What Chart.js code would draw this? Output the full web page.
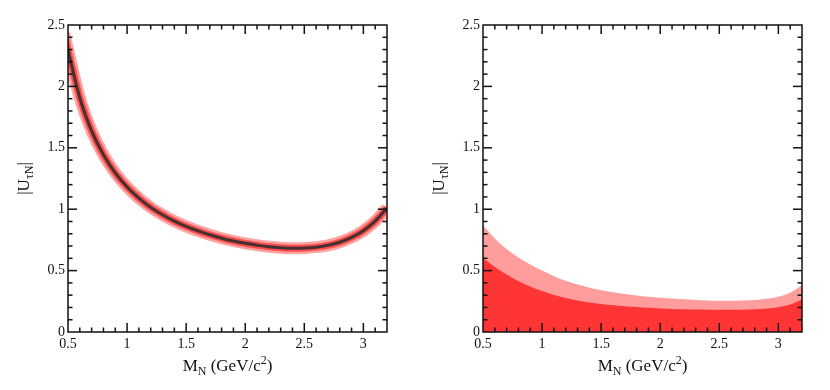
<!DOCTYPE html>
<html>
<head>
<meta charset="utf-8">
<script src="https://cdn.jsdelivr.net/npm/chart.js@4/dist/chart.umd.min.js"></script>
<style>
  html, body { margin: 0; padding: 0; background: #fff; }
  #wrap { display: flex; width: 830px; height: 390px; }
  canvas { display: block; }
</style>
</head>
<body>
<div id="wrap">
  <canvas id="leftChart" width="415" height="390"></canvas>
  <canvas id="rightChart" width="415" height="390"></canvas>
</div>
<script>
// Axis ticks
const xMajor = [0.5, 1, 1.5, 2, 2.5, 3];
const yMajor = [0, 0.5, 1, 1.5, 2, 2.5];
const minorStep = 0.1;

// Left panel: central curve (drawn with two error bands around it).
// first/last points sit just outside the frame so the band is cut by the axes
const leftX = [0.47, 0.5, 0.6, 0.7, 0.8, 0.9, 1.0, 1.1, 1.2, 1.3, 1.4, 1.5, 1.6, 1.7, 1.8, 1.9, 2.0, 2.1, 2.2, 2.3, 2.4, 2.5, 2.6, 2.7, 2.8, 2.9, 3.0, 3.1, 3.2, 3.23];
const leftCenter = [2.43, 2.30, 1.907, 1.638, 1.443, 1.295, 1.181, 1.090, 1.015, 0.955, 0.903, 0.860, 0.823, 0.792, 0.764, 0.741, 0.722, 0.707, 0.694, 0.686, 0.682, 0.684, 0.691, 0.706, 0.731, 0.770, 0.825, 0.903, 1.010, 1.05];

// Right panel: two filled regions from zero
const rightX = [0.5, 0.6, 0.7, 0.8, 0.9, 1.0, 1.1, 1.2, 1.3, 1.4, 1.5, 1.6, 1.7, 1.8, 1.9, 2.0, 2.1, 2.2, 2.3, 2.4, 2.5, 2.6, 2.7, 2.8, 2.9, 3.0, 3.1, 3.2];
const rightUpper = [0.870, 0.762, 0.675, 0.607, 0.550, 0.500, 0.455, 0.417, 0.386, 0.361, 0.340, 0.323, 0.309, 0.297, 0.287, 0.279, 0.272, 0.266, 0.261, 0.257, 0.255, 0.254, 0.256, 0.261, 0.270, 0.287, 0.320, 0.380];
const rightLower = [0.600, 0.530, 0.469, 0.416, 0.371, 0.333, 0.302, 0.277, 0.257, 0.241, 0.228, 0.218, 0.210, 0.203, 0.197, 0.192, 0.188, 0.185, 0.183, 0.182, 0.181, 0.181, 0.182, 0.185, 0.191, 0.202, 0.224, 0.265];

const SERIF = "'Liberation Serif', 'DejaVu Serif', serif";
const INK = '#111';

const toPoints = (xs, ys) => xs.map((x, i) => ({ x: x, y: ys[i] }));

// draws the box, inward major/minor ticks on all four sides and the axis titles
const framePlugin = {
    id: 'frame',
    afterDraw(chart) {
        const ctx = chart.ctx;
        const a = chart.chartArea;
        const sx = chart.scales.x, sy = chart.scales.y;
        ctx.save();
        ctx.strokeStyle = INK;
        ctx.lineWidth = 1.5;
        ctx.strokeRect(a.left, a.top, a.right - a.left, a.bottom - a.top);

        const tick = (x1, y1, x2, y2) => {
            ctx.beginPath(); ctx.moveTo(x1, y1); ctx.lineTo(x2, y2); ctx.stroke();
        };
        // x ticks
        for (let v = sx.min; v <= sx.max + 1e-9; v += minorStep) {
            const r = Math.round(v * 10) / 10;
            const major = xMajor.some(m => Math.abs(m - r) < 1e-6);
            const len = major ? 9 : 4.5;
            const px = sx.getPixelForValue(r);
            if (px <= a.left + 0.5 || px >= a.right - 0.5) continue;
            tick(px, a.bottom, px, a.bottom - len);
            tick(px, a.top, px, a.top + len);
        }
        // y ticks
        for (let v = sy.min; v <= sy.max + 1e-9; v += minorStep) {
            const r = Math.round(v * 10) / 10;
            const major = yMajor.some(m => Math.abs(m - r) < 1e-6);
            const len = major ? 9 : 4.5;
            const py = sy.getPixelForValue(r);
            if (py <= a.top + 0.5 || py >= a.bottom - 0.5) continue;
            tick(a.left, py, a.left + len, py);
            tick(a.right, py, a.right - len, py);
        }

        ctx.fillStyle = INK;
        ctx.textBaseline = 'alphabetic';
        // x title: M_N (GeV/c^2)
        const parts = [
            { t: 'M', s: 17, dy: 0 },
            { t: 'N', s: 12, dy: 4 },
            { t: ' (GeV/c', s: 17, dy: 0 },
            { t: '2', s: 12, dy: -7 },
            { t: ')', s: 17, dy: 0 }
        ];
        let w = 0;
        parts.forEach(p => { ctx.font = p.s + 'px ' + SERIF; p.w = ctx.measureText(p.t).width; w += p.w; });
        let x = (a.left + a.right) / 2 - w / 2;
        const base = 371;
        ctx.textAlign = 'left';
        parts.forEach(p => { ctx.font = p.s + 'px ' + SERIF; ctx.fillText(p.t, x, base + p.dy); x += p.w; });

        // y title: |U_tauN|
        const yparts = [
            { t: '|U', s: 17, dy: 0 },
            { t: '\u03c4N', s: 12, dy: 4 },
            { t: '|', s: 17, dy: 0 }
        ];
        let yw = 0;
        yparts.forEach(p => { ctx.font = p.s + 'px ' + SERIF; p.w = ctx.measureText(p.t).width; yw += p.w; });
        ctx.translate(29, (a.top + a.bottom) / 2);
        ctx.rotate(-Math.PI / 2);
        let yx = -yw / 2;
        yparts.forEach(p => { ctx.font = p.s + 'px ' + SERIF; ctx.fillText(p.t, yx, p.dy); yx += p.w; });
        ctx.restore();
    }
};

function baseOptions() {
    return {
        responsive: false,
        animation: false,
        events: [],
        layout: { padding: { top: 25, right: 28, bottom: 0, left: 0 } },
        plugins: { legend: { display: false }, tooltip: { enabled: false } },
        scales: {
            x: {
                type: 'linear',
                min: 0.5,
                max: 3.2,
                afterFit: s => { s.height = 58; },
                afterBuildTicks: s => { s.ticks = xMajor.map(v => ({ value: v })); },
                grid: { display: false, drawTicks: false },
                border: { display: false },
                ticks: {
                    autoSkip: false,
                    maxRotation: 0,
                    padding: 4,
                    color: INK,
                    font: { family: SERIF, size: 14 },
                    callback: v => String(v)
                }
            },
            y: {
                type: 'linear',
                min: 0,
                max: 2.5,
                afterFit: s => { s.width = 68; },
                afterBuildTicks: s => { s.ticks = yMajor.map(v => ({ value: v })); },
                grid: { display: false, drawTicks: false },
                border: { display: false },
                ticks: {
                    autoSkip: false,
                    padding: 3,
                    color: INK,
                    font: { family: SERIF, size: 14 },
                    callback: v => String(v)
                }
            }
        }
    };
}

const lineStyle = {
    pointRadius: 0,
    fill: false,
    cubicInterpolationMode: 'monotone',
    borderCapStyle: 'butt'
};

new Chart(document.getElementById('leftChart'), {
    type: 'line',
    data: {
        datasets: [
            Object.assign({ label: 'outer band', data: toPoints(leftX, leftCenter), borderColor: '#ffa3a3', borderWidth: 12, order: 3 }, lineStyle),
            Object.assign({ label: 'inner band', data: toPoints(leftX, leftCenter), borderColor: '#ff4c4c', borderWidth: 7, order: 2 }, lineStyle),
            Object.assign({ label: 'central', data: toPoints(leftX, leftCenter), borderColor: '#433030', borderWidth: 3, order: 1 }, lineStyle)
        ]
    },
    options: baseOptions(),
    plugins: [framePlugin]
});

new Chart(document.getElementById('rightChart'), {
    type: 'line',
    data: {
        datasets: [
            { label: 'upper', data: toPoints(rightX, rightUpper), borderWidth: 0, pointRadius: 0, fill: 'origin', backgroundColor: '#ff9c9c', borderColor: 'rgba(0,0,0,0)', cubicInterpolationMode: 'monotone', order: 2 },
            { label: 'lower', data: toPoints(rightX, rightLower), borderWidth: 0, pointRadius: 0, fill: 'origin', backgroundColor: '#ff3535', borderColor: 'rgba(0,0,0,0)', cubicInterpolationMode: 'monotone', order: 1 }
        ]
    },
    options: baseOptions(),
    plugins: [framePlugin]
});
</script>
</body>
</html>
